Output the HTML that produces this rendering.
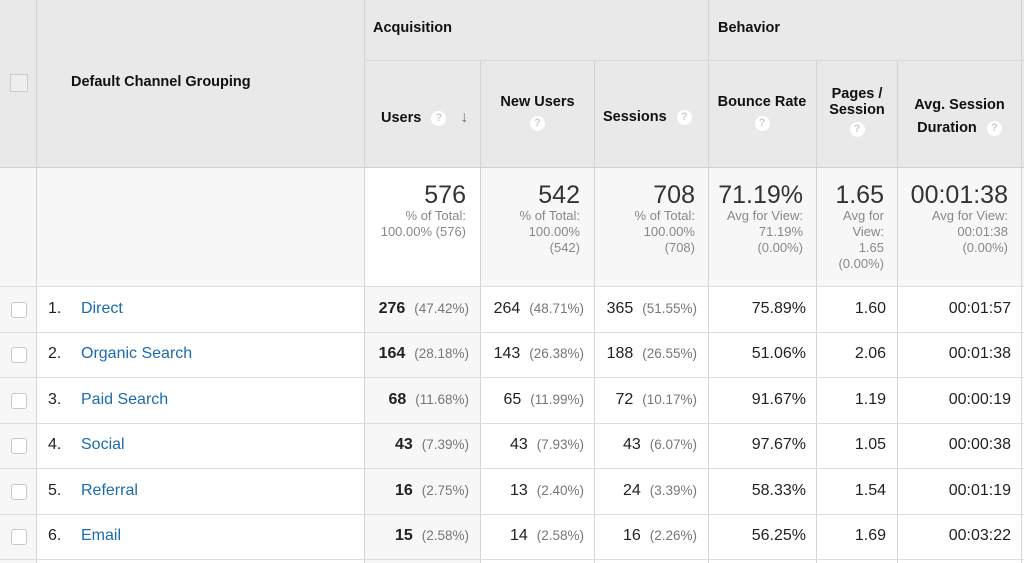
<!DOCTYPE html>
<html><head><meta charset="utf-8"><style>
body{margin:0;width:1024px;height:563px;background:#fff;font-family:"Liberation Sans",sans-serif;position:relative;overflow:hidden;color:#222}
.a{position:absolute}
.bg{position:absolute}
.vl{position:absolute;width:1px;background:#d4d4d4}
.hl{position:absolute;height:1px;background:#dcdcdc}
.h{position:absolute;font-weight:bold;font-size:14.5px;color:#111}
.q{display:inline-block;width:15px;height:15px;border-radius:50%;background:#fff;color:#ccc;font-size:11px;line-height:15px;text-align:center;font-weight:bold;vertical-align:middle}
.tot{position:absolute;text-align:right;color:#333}
.tot .big{font-size:25px;line-height:26px}
.tot .sm{font-size:13px;color:#888;line-height:16px}
.c{position:absolute;font-size:16px;text-align:right;white-space:nowrap;line-height:20px}
.p{color:#777;font-size:13.5px}
.cb{position:absolute;left:11px;width:14px;height:14px;border:1px solid #c8c8c8;border-radius:3px;background:#fff}
.n{position:absolute;left:48px;font-size:16px;line-height:20px}
.l{position:absolute;left:81px;font-size:16px;color:#1a6bb0;line-height:20px}
</style></head><body>
<div class="bg" style="left:0;top:0;width:1024px;height:168px;background:#e9e9e9"></div>
<div class="bg" style="left:0;top:168px;width:1024px;height:119px;background:#f7f7f7"></div>
<div class="bg" style="left:364px;top:168px;width:116px;height:119px;background:#fff"></div>
<div class="bg" style="left:0;top:287px;width:37px;height:276px;background:#f7f7f7"></div>
<div class="bg" style="left:364px;top:287px;width:116px;height:276px;background:#f7f7f7"></div>

<div class="vl" style="left:36px;top:0;height:563px"></div>
<div class="vl" style="left:364px;top:0;height:563px"></div>
<div class="vl" style="left:708px;top:0;height:563px"></div>
<div class="vl" style="left:480px;top:61px;height:502px"></div>
<div class="vl" style="left:594px;top:61px;height:502px"></div>
<div class="vl" style="left:816px;top:61px;height:502px"></div>
<div class="vl" style="left:897px;top:61px;height:502px"></div>
<div class="vl" style="left:1021px;top:0;height:563px"></div>
<div class="hl" style="left:364px;top:60px;width:660px"></div>
<div class="hl" style="left:0;top:167px;width:1024px;background:#d0d0d0"></div>
<div class="hl" style="left:0;top:286px;width:1024px"></div>
<div class="hl" style="left:0;top:332px;width:1024px"></div>
<div class="hl" style="left:0;top:377px;width:1024px"></div>
<div class="hl" style="left:0;top:423px;width:1024px"></div>
<div class="hl" style="left:0;top:468px;width:1024px"></div>
<div class="hl" style="left:0;top:514px;width:1024px"></div>
<div class="hl" style="left:0;top:559px;width:1024px"></div>

<div class="a" style="left:10px;top:74px;width:16px;height:16px;border:1px solid #ccc;background:#eee"></div>
<div class="h" style="left:71px;top:74px">Default Channel Grouping</div>
<div class="h" style="left:373px;top:20px">Acquisition</div>
<div class="h" style="left:718px;top:20px">Behavior</div>
<div class="h" style="left:381px;top:109px">Users <span class="q" style="margin-left:6px">?</span> <span style="color:#777;margin-left:10px;font-size:16px">&#8595;</span></div>
<div class="h" style="left:481px;top:94px;width:113px;text-align:center">New Users<br><span class="q" style="margin-top:6px">?</span></div>
<div class="h" style="left:603px;top:109px">Sessions <span class="q" style="margin-left:6px">?</span></div>
<div class="h" style="left:709px;top:94px;width:106px;text-align:center">Bounce Rate<br><span class="q" style="margin-top:6px">?</span></div>
<div class="h" style="left:817px;top:86px;width:80px;text-align:center;line-height:16px">Pages /<br>Session<br><span class="q" style="margin-top:4px">?</span></div>
<div class="h" style="left:898px;top:94px;width:123px;text-align:center;line-height:23px">Avg. Session<br>Duration <span class="q" style="margin-left:6px">?</span></div>

<div class="tot" style="left:370px;top:182px;width:96px"><div class="big">576</div><div class="sm">% of Total:<br>100.00% (576)</div></div>
<div class="tot" style="left:486px;top:182px;width:94px"><div class="big">542</div><div class="sm">% of Total:<br>100.00%<br>(542)</div></div>
<div class="tot" style="left:600px;top:182px;width:95px"><div class="big">708</div><div class="sm">% of Total:<br>100.00%<br>(708)</div></div>
<div class="tot" style="left:712px;top:182px;width:91px"><div class="big">71.19%</div><div class="sm">Avg for View:<br>71.19%<br>(0.00%)</div></div>
<div class="tot" style="left:820px;top:182px;width:64px"><div class="big">1.65</div><div class="sm">Avg for<br>View:<br>1.65<br>(0.00%)</div></div>
<div class="tot" style="left:900px;top:182px;width:108px"><div class="big">00:01:38</div><div class="sm">Avg for View:<br>00:01:38<br>(0.00%)</div></div>

<div class="cb" style="top:302px"></div><div class="n" style="top:299px">1.</div><div class="l" style="top:299px">Direct</div>
<div class="c" style="top:299px;right:555px"><b>276</b> &nbsp;<span class="p">(47.42%)</span></div>
<div class="c" style="top:299px;right:440px">264 &nbsp;<span class="p">(48.71%)</span></div>
<div class="c" style="top:299px;right:327px">365 &nbsp;<span class="p">(51.55%)</span></div>
<div class="c" style="top:299px;right:218px">75.89%</div>
<div class="c" style="top:299px;right:138px">1.60</div>
<div class="c" style="top:299px;right:13px">00:01:57</div>

<div class="cb" style="top:347px"></div><div class="n" style="top:344px">2.</div><div class="l" style="top:344px">Organic Search</div>
<div class="c" style="top:344px;right:555px"><b>164</b> &nbsp;<span class="p">(28.18%)</span></div>
<div class="c" style="top:344px;right:440px">143 &nbsp;<span class="p">(26.38%)</span></div>
<div class="c" style="top:344px;right:327px">188 &nbsp;<span class="p">(26.55%)</span></div>
<div class="c" style="top:344px;right:218px">51.06%</div>
<div class="c" style="top:344px;right:138px">2.06</div>
<div class="c" style="top:344px;right:13px">00:01:38</div>

<div class="cb" style="top:393px"></div><div class="n" style="top:390px">3.</div><div class="l" style="top:390px">Paid Search</div>
<div class="c" style="top:390px;right:555px"><b>68</b> &nbsp;<span class="p">(11.68%)</span></div>
<div class="c" style="top:390px;right:440px">65 &nbsp;<span class="p">(11.99%)</span></div>
<div class="c" style="top:390px;right:327px">72 &nbsp;<span class="p">(10.17%)</span></div>
<div class="c" style="top:390px;right:218px">91.67%</div>
<div class="c" style="top:390px;right:138px">1.19</div>
<div class="c" style="top:390px;right:13px">00:00:19</div>

<div class="cb" style="top:438px"></div><div class="n" style="top:435px">4.</div><div class="l" style="top:435px">Social</div>
<div class="c" style="top:435px;right:555px"><b>43</b> &nbsp;<span class="p">(7.39%)</span></div>
<div class="c" style="top:435px;right:440px">43 &nbsp;<span class="p">(7.93%)</span></div>
<div class="c" style="top:435px;right:327px">43 &nbsp;<span class="p">(6.07%)</span></div>
<div class="c" style="top:435px;right:218px">97.67%</div>
<div class="c" style="top:435px;right:138px">1.05</div>
<div class="c" style="top:435px;right:13px">00:00:38</div>

<div class="cb" style="top:484px"></div><div class="n" style="top:481px">5.</div><div class="l" style="top:481px">Referral</div>
<div class="c" style="top:481px;right:555px"><b>16</b> &nbsp;<span class="p">(2.75%)</span></div>
<div class="c" style="top:481px;right:440px">13 &nbsp;<span class="p">(2.40%)</span></div>
<div class="c" style="top:481px;right:327px">24 &nbsp;<span class="p">(3.39%)</span></div>
<div class="c" style="top:481px;right:218px">58.33%</div>
<div class="c" style="top:481px;right:138px">1.54</div>
<div class="c" style="top:481px;right:13px">00:01:19</div>

<div class="cb" style="top:529px"></div><div class="n" style="top:526px">6.</div><div class="l" style="top:526px">Email</div>
<div class="c" style="top:526px;right:555px"><b>15</b> &nbsp;<span class="p">(2.58%)</span></div>
<div class="c" style="top:526px;right:440px">14 &nbsp;<span class="p">(2.58%)</span></div>
<div class="c" style="top:526px;right:327px">16 &nbsp;<span class="p">(2.26%)</span></div>
<div class="c" style="top:526px;right:218px">56.25%</div>
<div class="c" style="top:526px;right:138px">1.69</div>
<div class="c" style="top:526px;right:13px">00:03:22</div>
</body></html>
